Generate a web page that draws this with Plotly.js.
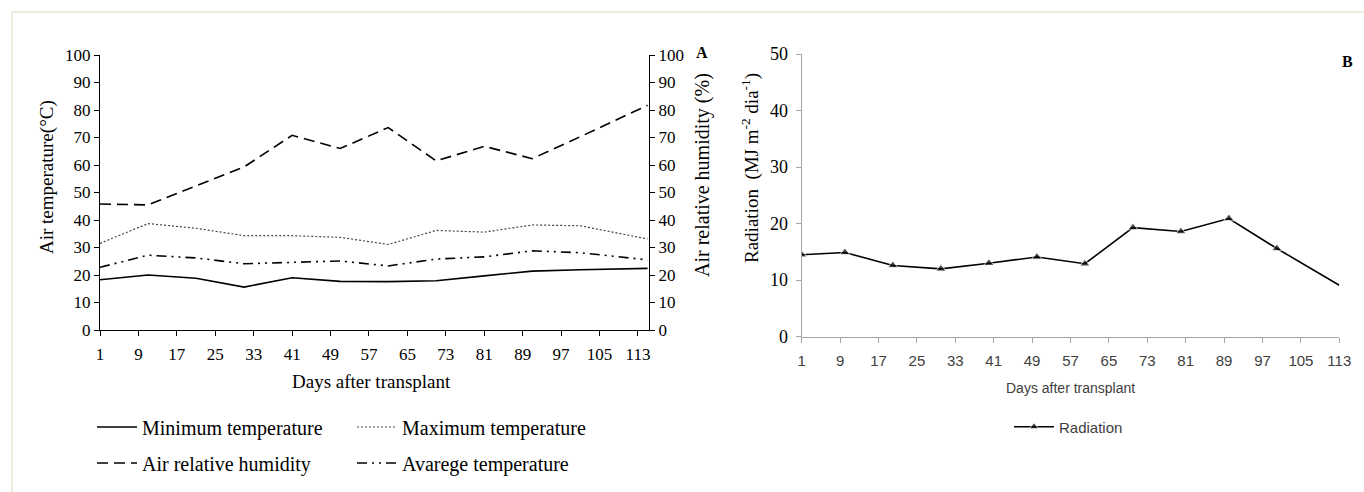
<!DOCTYPE html>
<html>
<head>
<meta charset="utf-8">
<script src="https://cdn.plot.ly/plotly-3.0.1.min.js"></script>
<style>html,body{margin:0;padding:0;background:#fff;}#chart{width:1364px;height:492px;}</style>
</head>
<body>
<div id="chart"></div>
<script>
// ---- data ----
const xTicks = [1, 9, 17, 25, 33, 41, 49, 57, 65, 73, 81, 89, 97, 105, 113];
const daysA = [1, 11, 21, 31, 41, 51, 61, 71, 81, 91, 101, 115];
const minTemp = [18.3, 20.0, 18.8, 15.6, 19.0, 17.7, 17.6, 17.9, 19.7, 21.4, 21.9, 22.4];
const maxTemp = [31.5, 38.7, 37.0, 34.3, 34.3, 33.7, 31.1, 36.2, 35.6, 38.2, 37.9, 33.1];
const humidity = [45.8, 45.5, 52.4, 59.3, 70.8, 66.0, 73.6, 61.5, 66.8, 62.3, 70.3, 81.7];
const avgTemp = [22.8, 27.2, 26.2, 24.1, 24.6, 25.1, 23.3, 25.8, 26.6, 28.8, 28.1, 25.5];
const daysB = [1, 10, 20, 30, 40, 50, 60, 70, 80, 90, 100, 113];
const radiation = [14.5, 14.9, 12.6, 12.0, 13.0, 14.1, 12.9, 19.3, 18.6, 20.9, 15.6, 9.1];

const W = 1364, H = 492;
const px = v => v / W;
const py = v => 1 - v / H;
const serif = 'Liberation Serif, Times New Roman, serif';
const sans = 'Liberation Sans, Arial, sans-serif';

const radSizes = radiation.map((v, i) => i === radiation.length - 1 ? 0 : 9);

const traces = [
  {x: daysA, y: minTemp, name: 'Minimum temperature', mode: 'lines', xaxis: 'x', yaxis: 'y',
   line: {color: '#000', width: 1.6}, legend: 'legend'},
  {x: daysA, y: maxTemp, name: 'Maximum temperature', mode: 'lines', xaxis: 'x', yaxis: 'y',
   line: {color: '#444', width: 1.2, dash: '2px,2px'}, legend: 'legend2'},
  {x: daysA, y: humidity, name: 'Air relative humidity', mode: 'lines', xaxis: 'x', yaxis: 'y2',
   line: {color: '#000', width: 1.6, dash: '11px,6px'}, legend: 'legend3'},
  {x: daysA, y: avgTemp, name: 'Avarege temperature', mode: 'lines', xaxis: 'x', yaxis: 'y',
   line: {color: '#000', width: 1.6, dash: '10px,5px,2px,5px,2px,5px'}, legend: 'legend4'},
  {x: daysB, y: radiation, name: 'Radiation', mode: 'lines+markers', xaxis: 'x2', yaxis: 'y3',
   line: {color: '#000', width: 1.6}, marker: {symbol: 'triangle-up', size: radSizes, color: '#000'},
   legend: 'legend5'}
];

const legendBase = {orientation: 'v', xanchor: 'left', yanchor: 'middle', bgcolor: 'rgba(0,0,0,0)',
  borderwidth: 0, itemwidth: 40, tracegroupgap: 0};
function lg(x, y, font) { return Object.assign({}, legendBase, {x: px(x), y: py(y), font: font}); }
const serifLeg = {family: serif, size: 20, color: '#000'};

const axA = {showgrid: false, zeroline: false, showline: true, linecolor: '#000', linewidth: 1,
  ticks: 'outside', ticklen: 5, tickcolor: '#000', tickwidth: 1,
  tickfont: {family: serif, size: 17, color: '#000'}};
const axB = {showgrid: false, zeroline: false, showline: true, linecolor: '#A6A6A6', linewidth: 1,
  ticks: 'outside', ticklen: 5, tickcolor: '#A6A6A6', tickwidth: 1};

function ann(text, x, y, font, angle) {
  return {text: text, x: px(x), y: py(y), xref: 'paper', yref: 'paper', showarrow: false,
    xanchor: 'center', yanchor: 'middle', textangle: angle || 0, font: font};
}

const layout = {
  width: W, height: H, autosize: false,
  margin: {l: 0, r: 0, t: 0, b: 0},
  paper_bgcolor: '#fff', plot_bgcolor: 'rgba(0,0,0,0)',
  showlegend: true,
  xaxis: Object.assign({}, axA, {domain: [px(100), px(649)], range: [1, 115.3], anchor: 'y',
    tickmode: 'array', tickvals: xTicks, ticklabelstandoff: 4}),
  yaxis: Object.assign({}, axA, {domain: [py(330), py(55)], range: [0, 100], dtick: 10, anchor: 'x'}),
  yaxis2: Object.assign({}, axA, {overlaying: 'y', side: 'right', range: [0, 100], dtick: 10, anchor: 'x'}),
  xaxis2: Object.assign({}, axB, {domain: [px(801.7), px(1339.3)], range: [1, 113], anchor: 'y3',
    tickmode: 'array', tickvals: xTicks, ticklabelstandoff: 5,
    tickfont: {family: sans, size: 15, color: '#404040'}}),
  yaxis3: Object.assign({}, axB, {domain: [py(336.7), py(54)], range: [0, 50], dtick: 10, anchor: 'x2',
    ticklabelstandoff: 4, tickfont: {family: serif, size: 18, color: '#000'}}),
  legend: lg(92, 427, serifLeg),
  legend2: lg(352, 427, serifLeg),
  legend3: lg(92, 463, serifLeg),
  legend4: lg(352, 463, serifLeg),
  legend5: lg(1009, 427, {family: sans, size: 15, color: '#404040'}),
  annotations: [
    ann('Air temperature(°C)', 47, 177, {family: serif, size: 19, color: '#000'}, -90),
    ann('Air relative humidity (%)', 702, 175, {family: serif, size: 20, color: '#000'}, -90),
    ann('Days after transplant', 371, 381, {family: serif, size: 19, color: '#000'}),
    ann('A', 702, 53, {family: serif, size: 16, color: '#000', weight: 'bold'}),
    ann('Radiation  (MJ m<sup>-2</sup> dia<sup>-1</sup>)', 750, 168, {family: serif, size: 19, color: '#000'}, -90),
    ann('Days after transplant', 1070, 388, {family: sans, size: 14, color: '#404040'}),
    ann('B', 1347, 62, {family: serif, size: 16, color: '#000', weight: 'bold'})
  ],
  shapes: [
    {type: 'line', xref: 'paper', yref: 'paper', x0: px(12), x1: px(12), y0: 0, y1: py(12),
     line: {color: '#EEEBE0', width: 2}},
    {type: 'line', xref: 'paper', yref: 'paper', x0: px(12), x1: 1, y0: py(12), y1: py(12),
     line: {color: '#EEEBE0', width: 2}}
  ]
};

Plotly.newPlot('chart', traces, layout, {displayModeBar: false, staticPlot: true});
</script>
</body>
</html>
